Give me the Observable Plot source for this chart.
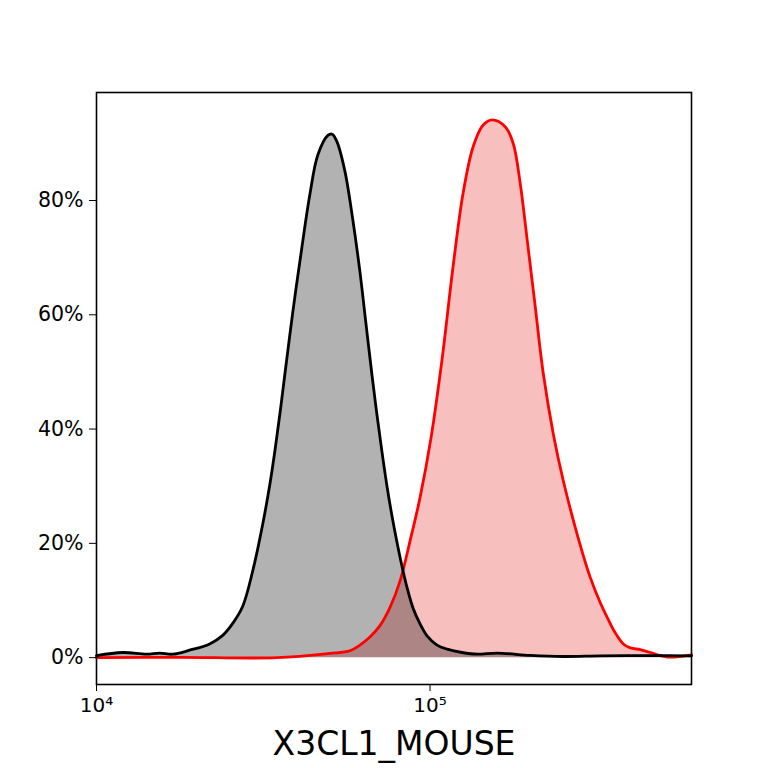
<!DOCTYPE html>
<html>
<head>
<meta charset="utf-8">
<script src="https://cdn.jsdelivr.net/npm/d3@7"></script>
<script src="https://cdn.jsdelivr.net/npm/@observablehq/plot@0.6"></script>
<style>
  html, body { margin: 0; padding: 0; background: #fff; }
  #chart { width: 768px; height: 768px; }
</style>
</head>
<body>
<div id="chart"></div>
<script>
// Control (black) histogram: fluorescence intensity and % of max
const controlX = [10000, 11970, 14130, 15460, 16910, 19020, 21840, 23900, 25610, 27440, 29410, 31510, 33070, 34230, 35440, 36690, 38780, 41260, 43610, 46100, 49400, 50900, 52580, 55570, 58720, 61640, 64240, 66960, 69320, 71760, 74290, 76900, 79600, 82400, 85300, 88910, 93330, 97950, 104950, 112500, 124800, 138400, 158900, 199700, 250800, 323900, 457900, 608000];
const controlY = [0.35, 0.9, 0.6, 0.8, 0.6, 1.3, 2.4, 3.9, 6.0, 9.0, 15.2, 23.4, 30.2, 36.0, 42.5, 49.5, 60.5, 71.7, 81.0, 88.0, 91.4, 91.6, 90.3, 85.1, 76.5, 67.5, 58.5, 49.5, 42.5, 36.0, 30.0, 24.8, 20.2, 16.0, 12.3, 8.7, 5.9, 3.8, 2.2, 1.5, 0.9, 0.6, 0.8, 0.4, 0.2, 0.3, 0.35, 0.3];

// Stained (red) histogram
const stainX = [10000, 17750, 34710, 50090, 57520, 61640, 66040, 70760, 75860, 81280, 87090, 93330, 100700, 108650, 117270, 125660, 134640, 144290, 153570, 168000, 177550, 186360, 195550, 206670, 218420, 234090, 250800, 276400, 302400, 323900, 340000, 359400, 379800, 398700, 427200, 457900, 514900, 608000];
const stainY = [0.0, 0.05, 0.0, 0.75, 1.2, 2.2, 3.6, 5.6, 8.8, 13.4, 20.4, 28.0, 38.5, 52.2, 68.5, 81.3, 89.4, 93.2, 94.1, 92.9, 90.0, 83.0, 73.1, 61.5, 49.8, 39.2, 31.0, 21.5, 14.0, 9.6, 7.0, 4.3, 2.4, 1.7, 1.4, 0.9, 0.1, 0.5];

const xTicks = [10000, 100000];
const xTickLabels = ["10\u2074", "10\u2075"];
const yTicks = [0, 20, 40, 60, 80];
const xLabel = "X3CL1_MOUSE";

const control = controlX.map((x, i) => ({x, y: controlY[i]}));
const stain = stainX.map((x, i) => ({x, y: stainY[i]}));

const chart = Plot.plot({
  width: 768,
  height: 768,
  marginLeft: 96,
  marginRight: 77,
  marginTop: 92,
  marginBottom: 84,
  style: {fontFamily: "'DejaVu Sans', sans-serif", fontSize: "20px", background: "#fff", color: "#000"},
  x: {type: "log", domain: [10000, 608000]},
  y: {domain: [-4.7, 98.9]},
  marks: [
    Plot.areaY(stain, {x: "x", y: "y", fill: "rgb(228,0,0)", fillOpacity: 0.25, curve: "catmull-rom"}),
    Plot.areaY(control, {x: "x", y: "y", fill: "black", fillOpacity: 0.3, curve: "catmull-rom"}),
    Plot.line(stain, {x: "x", y: "y", stroke: "red", strokeWidth: 2.8, curve: "catmull-rom"}),
    Plot.line(control, {x: "x", y: "y", stroke: "black", strokeWidth: 2.8, curve: "catmull-rom"}),
    Plot.frame({stroke: "black", strokeWidth: 1.6}),
    Plot.axisX({ticks: xTicks, tickFormat: (d) => xTickLabels[xTicks.indexOf(d)], tickSize: 7, tickPadding: 6, fontSize: 20, label: null}),
    Plot.axisY({ticks: yTicks, tickFormat: (d) => d + "%", tickSize: 7, tickPadding: 6, fontSize: 20.5, label: null}),
    Plot.text([xLabel], {frameAnchor: "bottom", dy: 70, fontSize: 33, text: (d) => d})
  ]
});
document.getElementById("chart").appendChild(chart);
</script>
</body>
</html>
